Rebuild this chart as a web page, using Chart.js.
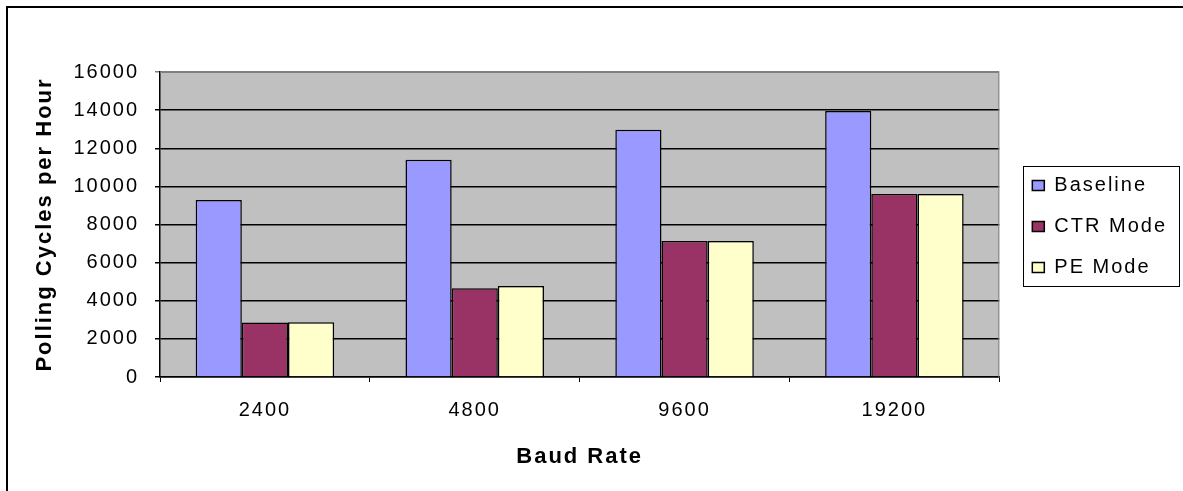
<!DOCTYPE html>
<html lang="en">
<head>
  <meta charset="UTF-8">
  <title>Polling Cycles per Hour</title>
  <script src="https://cdn.jsdelivr.net/npm/chart.js"></script>
  <style>
    body { margin: 0; background: #fff; }
    #chart { display: block; }
  </style>
</head>
<body>
<canvas id="chart" width="1183" height="491"></canvas>

<script>
  const baudRates = ['2400', '4800', '9600', '19200'];
  const baseline = [9280, 11400, 12970, 13950];
  const ctrMode = [2860, 4660, 7130, 9600];
  const peMode = [2870, 4780, 7130, 9600];

  // old Excel text is spaced out, canvas can do that directly
  const spacing = {
    id: 'spacing',
    beforeUpdate(chart) { chart.ctx.letterSpacing = '2px'; },
    beforeDraw(chart) { chart.ctx.letterSpacing = '2px'; }
  };

  // grey plot area, outer frame, legend box
  const frame = {
    id: 'frame',
    beforeDraw(chart) {
      const {ctx, chartArea: a} = chart;
      // pull the legend in next to the plot, centred on it
      const lg = chart.legend;
      lg.left = a.right + 12;
      lg.right = lg.left + 170;
      lg.top = a.top + 2;
      lg.bottom = a.bottom + 2;

      ctx.save();
      ctx.fillStyle = '#c0c0c0';
      ctx.fillRect(a.left, a.top, a.right - a.left, a.bottom - a.top);
      ctx.strokeStyle = '#000';
      ctx.lineWidth = 2;
      ctx.beginPath();
      ctx.moveTo(7, 491);
      ctx.lineTo(7, 7);
      ctx.lineTo(1183, 7);
      ctx.stroke();
      ctx.restore();
    },
    afterDraw(chart) {
      const {ctx, chartArea: a} = chart;
      const lg = chart.legend;
      const mid = Math.round((lg.top + lg.bottom) / 2);
      const x0 = Math.round(lg.left) + 12;
      ctx.save();
      ctx.strokeStyle = '#808080';
      ctx.lineWidth = 1;
      ctx.beginPath();
      ctx.moveTo(a.left, a.top + 0.5);
      ctx.lineTo(a.right - 0.5, a.top + 0.5);
      ctx.lineTo(a.right - 0.5, a.bottom);
      ctx.stroke();
      ctx.strokeStyle = '#000';
      ctx.strokeRect(x0 + 0.5, mid - 61 + 0.5, 156, 120);
      ctx.restore();
    }
  };

  Chart.defaults.font.family = "'Liberation Sans', Arial, sans-serif";
  Chart.defaults.font.size = 20;
  Chart.defaults.color = '#000';

  new Chart(document.getElementById('chart'), {
    type: 'bar',
    data: {
      labels: baudRates,
      datasets: [
        {label: 'Baseline', data: baseline, backgroundColor: '#9999ff', borderColor: '#000', borderWidth: 1.5},
        {label: 'CTR Mode', data: ctrMode, backgroundColor: '#993366', borderColor: '#000', borderWidth: 1.5},
        {label: 'PE Mode', data: peMode, backgroundColor: '#ffffcc', borderColor: '#000', borderWidth: 1.5}
      ]
    },
    options: {
      responsive: false,
      devicePixelRatio: 1,
      animation: false,
      categoryPercentage: 0.66,
      barPercentage: 1,
      layout: {padding: {top: 72, left: 25, right: 18, bottom: 10}},
      plugins: {
        tooltip: {enabled: false},
        legend: {
          position: 'right',
          labels: {boxWidth: 12, boxHeight: 10, padding: 21, font: {size: 20}}
        }
      },
      scales: {
        x: {
          grid: {drawOnChartArea: false, drawTicks: true, tickLength: 5, color: '#000'},
          border: {color: '#000', width: 1.5},
          ticks: {padding: 16, font: {size: 20}},
          title: {display: true, text: 'Baud Rate', font: {size: 22, weight: 'bold'}, padding: {top: 4, bottom: 11}},
          afterFit(scale) { scale.height = 104; }
        },
        y: {
          min: 0,
          max: 16000,
          ticks: {stepSize: 2000, padding: 16, font: {size: 20}, callback: v => v},
          grid: {
            color: c => c.tick && c.tick.value === 16000 ? '#808080' : '#000',
            tickLength: 5,
            lineWidth: 1.5
          },
          border: {color: '#000', width: 1.5},
          title: {display: true, text: 'Polling Cycles per Hour', font: {size: 22, weight: 'bold'}, padding: {top: 7, bottom: 0}},
          afterFit(scale) { scale.width = 135; }
        }
      }
    },
    plugins: [spacing, frame]
  });
</script>
</body>
</html>
